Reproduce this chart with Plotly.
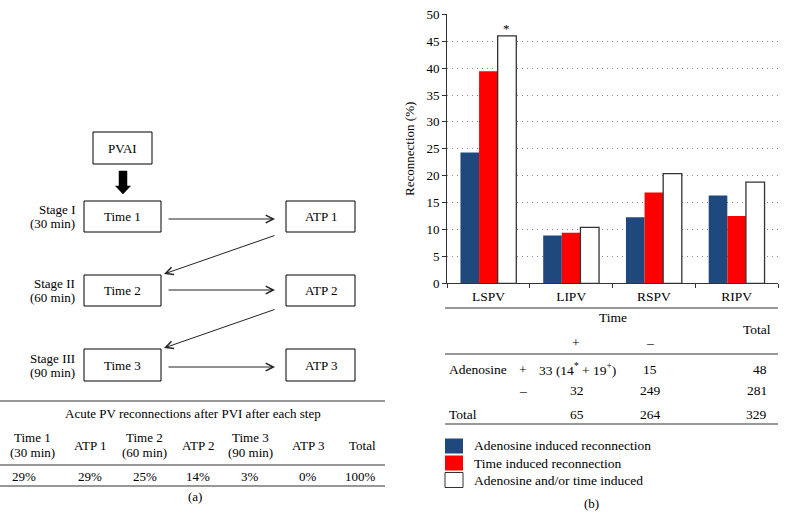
import plotly.graph_objects as go

W, H = 786, 518
FONT = "Liberation Serif, Times New Roman, Times, serif"
FS = 13

# ---------------- data ----------------
categories = ["LSPV", "LIPV", "RSPV", "RIPV"]
adenosine_induced = [24.3, 8.9, 12.3, 16.3]
time_induced = [39.4, 9.4, 16.9, 12.5]
adenosine_or_time = [46.0, 10.4, 20.4, 18.8]
series_names = ["Adenosine induced reconnection", "Time induced reconnection",
                "Adenosine and/or time induced"]
series_colors = ["#1F497D", "#FF0000", "#FFFFFF"]
y_tick_values = [0, 5, 10, 15, 20, 25, 30, 35, 40, 45, 50]
y_axis_title = "Reconnection (%)"
significance_mark = "*"

start_label = "PVAI"
stage_names = ["Stage I", "Stage II", "Stage III"]
stage_times = ["(30 min)", "(60 min)", "(90 min)"]
time_steps = ["Time 1", "Time 2", "Time 3"]
atp_steps = ["ATP 1", "ATP 2", "ATP 3"]

table_a_title = "Acute PV reconnections after PVI after each step"
table_a_head_line1 = ["Time 1", "ATP 1", "Time 2", "ATP 2", "Time 3", "ATP 3", "Total"]
table_a_head_line2 = ["(30 min)", "", "(60 min)", "", "(90 min)", "", ""]
table_a_values = ["29%", "29%", "25%", "14%", "3%", "0%", "100%"]

table_b_col_header = "Time"
table_b_sub_headers = ["+", "\u2013"]
table_b_total_header = "Total"
table_b_row_labels = ["Adenosine", "", "Total"]
table_b_row_signs = ["+", "\u2013", ""]
table_b_time_pos = ["33 (14<sup>*</sup> + 19<sup>+</sup>)", "32", "65"]
table_b_time_neg = ["15", "249", "264"]
table_b_totals = ["48", "281", "329"]

panel_labels = ["(a)", "(b)"]

# ---------------- helpers (pixel -> paper) ----------------
def X(px):
    return px / W


def Y(py):
    return 1 - py / H


shapes = []
annotations = []


def text(x, y, s, anchor="center", size=FS):
    annotations.append(dict(x=X(x), y=Y(y), xref="paper", yref="paper", text=s,
                            showarrow=False, xanchor=anchor, yanchor="middle",
                            font=dict(family=FONT, size=size, color="black")))


def rect(x0, y0, x1, y1, fill="rgba(0,0,0,0)", color="black", width=1):
    shapes.append(dict(type="rect", xref="paper", yref="paper",
                       x0=X(x0), x1=X(x1), y0=Y(y1), y1=Y(y0),
                       line=dict(color=color, width=width), fillcolor=fill))


def hline(x0, x1, y, width=1.2, color="#333333"):
    shapes.append(dict(type="line", xref="paper", yref="paper",
                       x0=X(x0), x1=X(x1), y0=Y(y), y1=Y(y),
                       line=dict(color=color, width=width)))


def arrow(xs, ys, xe, ye):
    annotations.append(dict(x=X(xe), y=Y(ye), xref="paper", yref="paper",
                            ax=xs - xe, ay=ys - ye, axref="pixel", ayref="pixel",
                            text="", showarrow=True, arrowhead=5, arrowsize=1.5,
                            arrowwidth=1, arrowcolor="#222222", standoff=0))


# ---------------- bar chart (b) ----------------
fig = go.Figure()
values = [adenosine_induced, time_induced, adenosine_or_time]
for name, vals, col in zip(series_names, values, series_colors):
    outline = "#333333" if col == "#FFFFFF" else col
    fig.add_trace(go.Bar(x=categories, y=vals, name=name, marker_color=col,
                         marker_line=dict(color=outline, width=1.3 if col == "#FFFFFF" else 0),
                         showlegend=False, hoverinfo="x+y"))

BARGAP = 0.325
AX_X0, AX_X1 = 447, 778
AX_Y0, AX_Y1 = 14.3, 283.3

fig.update_layout(
    width=W, height=H, margin=dict(l=0, r=0, t=0, b=0, autoexpand=False),
    paper_bgcolor="white", plot_bgcolor="white",
    barmode="group", bargap=BARGAP, bargroupgap=0,
    font=dict(family=FONT, size=FS, color="black"),
    xaxis=dict(domain=[X(AX_X0), X(AX_X1)], showline=True, linecolor="#333333", linewidth=1,
               ticks="outside", tickson="boundaries", ticklen=4, tickcolor="#333333",
               tickfont=dict(family=FONT, size=13.5), showgrid=False, fixedrange=True,
               automargin=False),
    yaxis=dict(domain=[Y(AX_Y1), Y(AX_Y0)], range=[0, 50], tickvals=y_tick_values,
               showline=True, linecolor="#333333", linewidth=1, ticks="outside",
               ticklen=4, tickcolor="#333333", tickfont=dict(family=FONT, size=FS),
               showgrid=True, gridcolor="#888888", griddash="1px,4px", gridwidth=1,
               zeroline=False, fixedrange=True, automargin=False,
               title=dict(text=y_axis_title, standoff=8, font=dict(family=FONT, size=FS))),
)

# significance mark above the third bar of the first group
cat_px = (AX_X1 - AX_X0) / len(categories)
bar_px = cat_px * (1 - BARGAP) / 3
annotations.append(dict(x=categories[0], y=adenosine_or_time[0], xref="x", yref="y",
                        xshift=bar_px, yshift=-2, text=significance_mark, showarrow=False,
                        xanchor="center", yanchor="bottom",
                        font=dict(family=FONT, size=FS, color="black")))

# ---------------- table (b) ----------------
TB = 13.5
hline(445, 778, 308)
text(613, 317, table_b_col_header, size=TB)
text(757, 329, table_b_total_header, size=TB)
text(576, 342, table_b_sub_headers[0], size=TB)
text(650, 342, table_b_sub_headers[1], size=TB)
hline(445, 778, 354)
row_y = [369, 390, 414]
for i, yy in enumerate(row_y):
    if table_b_row_labels[i]:
        text(447, yy, table_b_row_labels[i], anchor="left", size=TB)
    if table_b_row_signs[i]:
        text(523, yy, table_b_row_signs[i], size=TB)
    text(577, yy, table_b_time_pos[i], size=TB)
    text(650, yy, table_b_time_neg[i], size=TB)
    text(769, yy, table_b_totals[i], anchor="right", size=TB)
hline(445, 778, 424)

# legend (b)
leg_y = [446, 463, 480]
for name, col, yy in zip(series_names, series_colors, leg_y):
    rect(445, yy - 7.5, 463, yy + 7.5, fill=col, color="#333333" if col == "#FFFFFF" else col,
         width=1 if col == "#FFFFFF" else 0)
    text(472, yy, name, anchor="left", size=13.5)

text(591, 503, panel_labels[1])

# ---------------- flow chart (a) ----------------
rect(93, 132, 152, 164)
text(122.5, 148, start_label)
# thick down arrow
p = [(119, 171), (127, 171), (127, 186), (130.5, 186), (123, 194), (115.5, 186), (119, 186)]
path = "M " + " L ".join(f"{X(a):.5f},{Y(b):.5f}" for a, b in p) + " Z"
shapes.append(dict(type="path", xref="paper", yref="paper", path=path,
                   fillcolor="black", line=dict(color="black", width=0.5)))

box_rows = [(201, 232), (275, 306), (349, 381)]
arrow_y = [219, 290, 367]
for i, (y0, y1) in enumerate(box_rows):
    rect(84, y0, 161, y1)
    rect(286, y0, 355, y1)
    cy = (y0 + y1) / 2
    text(122.5, cy, time_steps[i])
    text(320.5, cy, atp_steps[i])
    text(77, cy - 7, stage_names[i], anchor="right")
    text(77, cy + 7, stage_times[i], anchor="right")
    arrow(167, arrow_y[i], 275, arrow_y[i])
    if i < 2:
        arrow(276, y1 + 3, 164, box_rows[i + 1][0] - 1)

# ---------------- table (a) ----------------
hline(0, 385, 401)
text(192.5, 413, table_a_title)
col_x = [32, 89.5, 144.5, 198, 250, 308, 378]
for j, cx in enumerate(col_x):
    anchor = "right" if j == len(col_x) - 1 else "center"
    if table_a_head_line2[j]:
        text(cx, 437, table_a_head_line1[j], anchor=anchor)
        text(cx, 452, table_a_head_line2[j], anchor=anchor)
    else:
        text(cx, 445, table_a_head_line1[j], anchor=anchor)
    if j == 0:
        text(10, 476, table_a_values[j], anchor="left")
    else:
        text(cx, 476, table_a_values[j], anchor=anchor)
hline(0, 385, 465)
hline(0, 385, 486)
text(195, 496, panel_labels[0])

fig.update_layout(shapes=shapes, annotations=annotations)
fig.write_html("out.html", config={"displayModeBar": False},
               post_script="document.body.style.margin='0';document.body.style.overflow='hidden';")
